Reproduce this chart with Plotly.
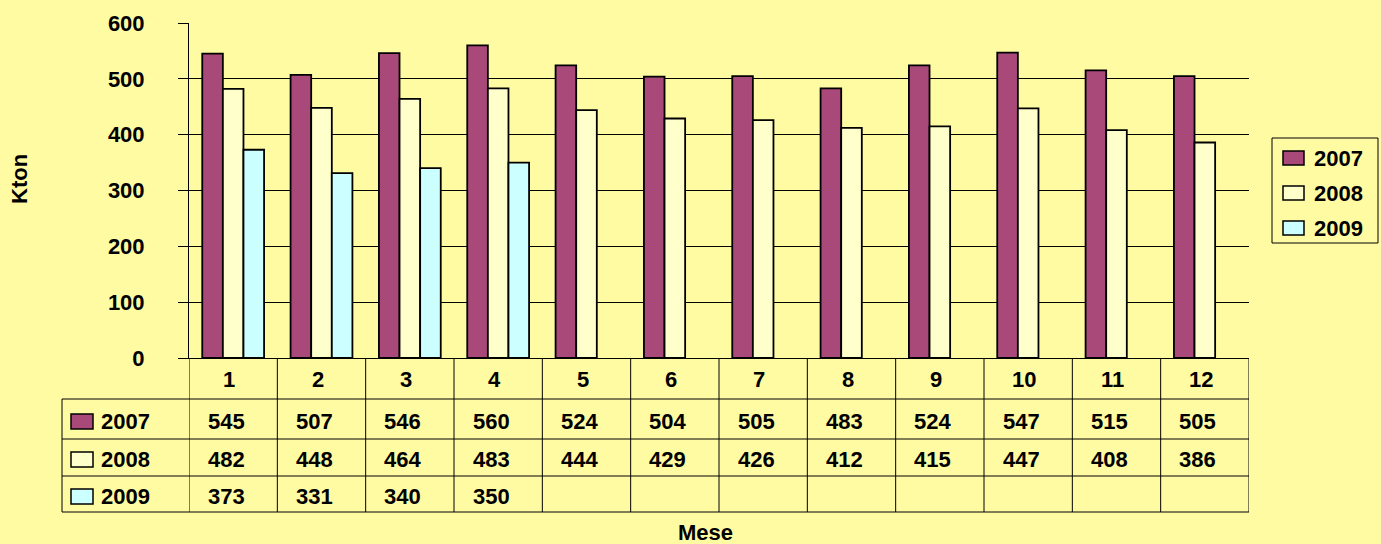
import plotly.graph_objects as go

# ---- data ----
months = ["1", "2", "3", "4", "5", "6", "7", "8", "9", "10", "11", "12"]
series_names = ["2007", "2008", "2009"]
v2007 = [545, 507, 546, 560, 524, 504, 505, 483, 524, 547, 515, 505]
v2008 = [482, 448, 464, 483, 444, 429, 426, 412, 415, 447, 408, 386]
v2009 = [373, 331, 340, 350, None, None, None, None, None, None, None, None]
y_ticks = [0, 100, 200, 300, 400, 500, 600]
y_title = "Kton"
x_title = "Mese"

# ---- style ----
W, H = 1381, 544
L, R, T, B = 189, 1249, 23, 358
BG = "#FFFBA3"
colors = ["#A8497A", "#FFFFCC", "#CCFFFF"]
FONT = "Liberation Sans, Arial, sans-serif"
FS = 22


def px2x(px):
    return (px - L) / (R - L)


def py2y(py):
    return (B - py) / (B - T)


series_values = [v2007, v2008, v2009]

fig = go.Figure()
for name, vals, col in zip(series_names, series_values, colors):
    fig.add_trace(go.Bar(
        x=months, y=vals, name=name,
        marker=dict(color=col, line=dict(color="#000000", width=1.8)),
        hoverinfo="x+y+name",
    ))

fig.update_layout(
    width=W, height=H,
    margin=dict(l=L, r=W - R, t=T, b=H - B, pad=0),
    paper_bgcolor=BG, plot_bgcolor=BG,
    barmode="group", bargap=0.3, bargroupgap=0,
    showlegend=False,
    font=dict(family=FONT, size=FS, color="#000000"),
)
fig.update_xaxes(
    type="category", range=[-0.5, len(months) - 0.5],
    showticklabels=False, ticks="", showgrid=False,
    showline=True, linecolor="#000000", linewidth=1, zeroline=False,
)
fig.update_yaxes(
    range=[0, 600], tickvals=y_ticks, ticktext=[str(t) for t in y_ticks],
    showgrid=True, gridcolor="#000000", gridwidth=1,
    showline=True, linecolor="#000000", linewidth=1,
    ticks="outside", ticklen=10, tickcolor="#000000",
    ticklabelstandoff=29,
    tickfont=dict(family=FONT, size=FS, color="#000000", weight="bold"),
    zeroline=False,
)

shapes = []
annotations = []
line = dict(color="#000000", width=1)

# table horizontal lines
row_lines = [399, 439, 476, 512]
for py in row_lines:
    shapes.append(dict(type="line", xref="paper", yref="paper",
                       x0=px2x(62), x1=1, y0=py2y(py), y1=py2y(py), line=line))
# left edge of legend column
shapes.append(dict(type="line", xref="paper", yref="paper",
                   x0=px2x(62), x1=px2x(62), y0=py2y(399), y1=py2y(512), line=line))
# column boundaries from category scale
for i in range(len(months) + 1):
    shapes.append(dict(type="line", xref="x", yref="paper",
                       x0=i - 0.5, x1=i - 0.5, y0=0, y1=py2y(512), line=line))

bold = dict(family=FONT, size=FS, color="#000000", weight="bold")

# header row: month labels (category index positions)
for i, m in enumerate(months):
    annotations.append(dict(x=i, xref="x", y=py2y(379), yref="paper",
                            text=m, showarrow=False, font=bold,
                            xanchor="center", yanchor="middle", xshift=-4))

row_centers = [421, 459, 496]
for name, vals, col, yc in zip(series_names, series_values, colors, row_centers):
    # row legend swatch + label
    shapes.append(dict(type="rect", xref="paper", yref="paper",
                       x0=px2x(71), x1=px2x(93), y0=py2y(yc + 8), y1=py2y(yc - 7),
                       fillcolor=col, line=dict(color="#000000", width=1.5)))
    annotations.append(dict(x=px2x(99), xref="paper", y=py2y(yc), yref="paper",
                            text=name, showarrow=False, font=bold,
                            xanchor="left", yanchor="middle"))
    for i, v in enumerate(vals):
        if v is None:
            continue
        annotations.append(dict(x=i, xref="x", y=py2y(yc), yref="paper",
                                text=str(v), showarrow=False, font=bold,
                                xanchor="center", yanchor="middle", xshift=-7))

# right-hand legend
shapes.append(dict(type="rect", xref="paper", yref="paper",
                   x0=px2x(1272), x1=px2x(1378), y0=py2y(243), y1=py2y(138),
                   fillcolor=BG, line=dict(color="#000000", width=1)))
leg_centers = [158, 193, 228]
for name, col, yc in zip(series_names, colors, leg_centers):
    shapes.append(dict(type="rect", xref="paper", yref="paper",
                       x0=px2x(1283), x1=px2x(1304), y0=py2y(yc + 7), y1=py2y(yc - 7),
                       fillcolor=col, line=dict(color="#000000", width=1.5)))
    annotations.append(dict(x=px2x(1312), xref="paper", y=py2y(yc), yref="paper",
                            text=name, showarrow=False, font=bold,
                            xanchor="left", yanchor="middle"))

# axis titles
annotations.append(dict(x=px2x(19), xref="paper", y=py2y(179), yref="paper",
                        text=y_title, textangle=-90, showarrow=False,
                        font=bold, xanchor="center", yanchor="middle"))
annotations.append(dict(x=px2x(705), xref="paper", y=py2y(532), yref="paper",
                        text=x_title, showarrow=False,
                        font=bold, xanchor="center", yanchor="middle"))

fig.update_layout(shapes=shapes, annotations=annotations)
fig.write_html("out.html", config={"displayModeBar": False},
               post_script="document.body.style.margin='0';")
